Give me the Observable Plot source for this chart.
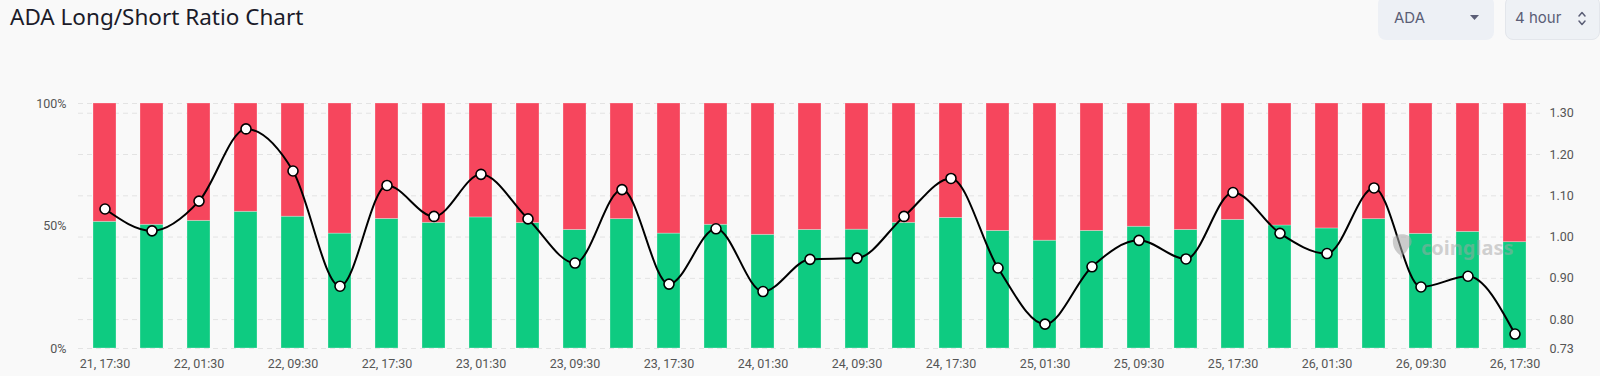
<!DOCTYPE html>
<html><head><meta charset="utf-8">
<script src="https://cdn.jsdelivr.net/npm/d3@7"></script>
<script src="https://cdn.jsdelivr.net/npm/@observablehq/plot@0.6"></script>
<style>
html,body{margin:0;padding:0;background:#f9f9f9;}
body{width:1600px;height:376px;overflow:hidden;position:relative;font-family:"Noto Sans",sans-serif;}
#header{position:relative;height:60px;}
#title{position:absolute;left:10px;top:1px;font-size:22.5px;color:#1b1b29;}
.sel{position:absolute;top:-4px;height:44px;border-radius:8px;box-sizing:border-box;color:#5b5e76;font-size:15px;font-family:Inter,"Noto Sans",sans-serif;}
#sel1{left:1378px;width:116px;background:#edf0f5;}
#sel1 .t{position:absolute;left:16px;top:12px;}
#sel1 svg{position:absolute;left:92px;top:19px;}
#sel2{left:1505px;width:95px;background:#eef1f5;border:1px solid #e3e6eb;}
#sel2 .t{position:absolute;left:9px;top:11px;}
#sel2 svg{position:absolute;left:71px;top:13px;}
#wm{position:absolute;left:1390px;top:233px;font-family:"Noto Sans",sans-serif;font-weight:700;font-size:20px;color:rgba(165,165,165,0.5);display:flex;align-items:center;gap:7px;}
#chart{position:absolute;left:0;top:60px;}
</style></head>
<body>
<div id="header">
  <div id="title">ADA Long/Short Ratio Chart</div>
  <div class="sel" id="sel1"><span class="t">ADA</span><svg width="9" height="5" viewBox="0 0 9 5"><path d="M0 0 L9 0 L4.5 5 Z" fill="#5b5e76"/></svg></div>
  <div class="sel" id="sel2"><span class="t">4 hour</span><svg width="10" height="17" viewBox="0 0 10 17"><path d="M2 6 L5 2.5 L8 6 M2 11 L5 14.5 L8 11" fill="none" stroke="#5b5e76" stroke-width="1.5" stroke-linecap="round" stroke-linejoin="round"/></svg></div>
</div>
<div id="chart"></div>
<div id="wm"><svg width="24" height="28" viewBox="0 0 24 28"><path d="M3 6 C5 1 14 0 19 3 C23 6 22 12 19 14 C17 17 16 20 13 22 L11 27 L10 22 C6 19 2 14 3 6 Z" fill="rgba(165,165,165,0.55)"/></svg><span>coinglass</span></div>
<script>
const times = ["21, 17:30","21, 21:30","22, 01:30","22, 05:30","22, 09:30","22, 13:30","22, 17:30","22, 21:30",
  "23, 01:30","23, 05:30","23, 09:30","23, 13:30","23, 17:30","23, 21:30","24, 01:30","24, 05:30",
  "24, 09:30","24, 13:30","24, 17:30","24, 21:30","25, 01:30","25, 05:30","25, 09:30","25, 13:30",
  "25, 17:30","25, 21:30","26, 01:30","26, 05:30","26, 09:30","26, 13:30","26, 17:30"];
const longPct = [51.7,50.5,52.1,55.8,53.8,46.9,52.9,51.3,53.5,51.2,48.4,52.8,46.9,50.5,46.4,48.4,
  48.5,51.3,53.3,48.0,44.0,48.0,49.7,48.4,52.5,50.2,49.0,52.8,46.8,47.6,43.4];
const ratio = [1.068,1.015,1.087,1.262,1.160,0.881,1.125,1.050,1.152,1.044,0.937,1.115,0.886,1.020,0.868,0.946,
  0.949,1.050,1.142,0.925,0.789,0.928,0.992,0.947,1.108,1.009,0.960,1.119,0.879,0.905,0.765];
const xTickLabels = ["21, 17:30","22, 01:30","22, 09:30","22, 17:30","23, 01:30","23, 09:30","23, 17:30","24, 01:30",
  "24, 09:30","24, 17:30","25, 01:30","25, 09:30","25, 17:30","26, 01:30","26, 09:30","26, 17:30"];
const pctTicks = [0, 50, 100];
const ratioTicks = [0.73, 0.80, 0.90, 1.00, 1.10, 1.20, 1.30];
const ratioDomain = [0.73, 1.3236];

const toY = d3.scaleLinear().domain(ratioDomain).range([0, 100]);
const rows = times.map((t, i) => ({t, long: longPct[i], ratio: ratio[i], ry: toY(ratio[i])}));
const green = "#0ecb81", red = "#f6465d";

const chart = Plot.plot({
  width: 1600, height: 316,
  marginLeft: 66, marginRight: 48, marginTop: 43, marginBottom: 28,
  style: {background: "transparent", fontFamily: "Roboto, sans-serif", fontSize: "12.5px", color: "#555"},
  x: {type: "band", domain: times, padding: 0.512, label: null},
  y: {domain: [0, 100], label: null},
  marks: [
    Plot.ruleY([...ratioTicks.map(r => toY(r)), 100], {stroke: "#e3e3e3", strokeDasharray: "5,4", insetLeft: 12, insetRight: 12}),
    Plot.barY(rows, {x: "t", y1: 0, y2: "long", fill: green, stroke: "#ffffff", strokeOpacity: 0.35, strokeWidth: 0.8}),
    Plot.barY(rows, {x: "t", y1: "long", y2: 100, fill: red, stroke: "#ffffff", strokeOpacity: 0.35, strokeWidth: 0.8}),
    Plot.line(rows, {x: "t", y: "ry", stroke: "#000", strokeWidth: 2, curve: "monotone-x"}),
    Plot.dot(rows, {x: "t", y: "ry", r: 5, fill: "#fff", stroke: "#000", strokeWidth: 1.6}),
    Plot.axisX({ticks: xTickLabels, tickSize: 0, tickPadding: 11, fill: "#555", label: null}),
    Plot.axisY({anchor: "left", ticks: pctTicks, tickFormat: d => d + "%", tickSize: 0, tickPadding: 0, fill: "#555", label: null}),
    Plot.axisY({anchor: "right", ticks: ratioTicks.map(r => toY(r)), tickFormat: d => toY.invert(d).toFixed(2), tickSize: 0, tickPadding: 0, dx: -3, fill: "#555", label: null})
  ]
});
document.getElementById("chart").appendChild(chart);
</script>
</body></html>
